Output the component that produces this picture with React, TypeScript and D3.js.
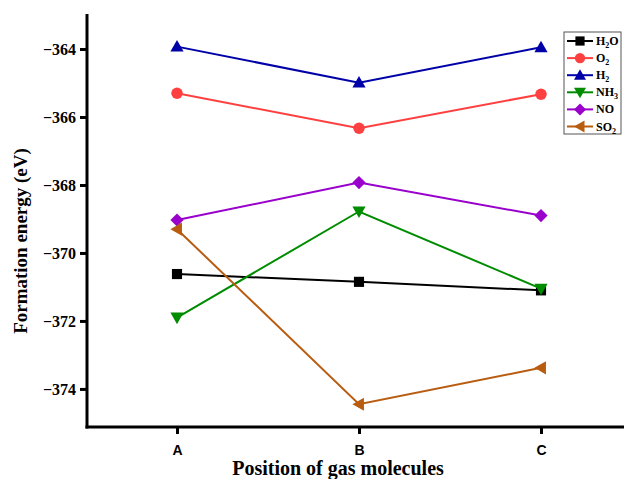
import { useEffect, useRef } from "react";
import * as d3 from "d3";

const positions = ["A", "B", "C"];
const seriesNames = ["H2O", "O2", "H2", "NH3", "NO", "SO2"];
const h2o = [-370.62, -370.85, -371.1];
const o2 = [-365.3, -366.33, -365.33];
const h2 = [-363.93, -364.99, -363.95];
const nh3 = [-371.9, -368.78, -371.05];
const no = [-369.03, -367.93, -368.9];
const so2 = [-369.3, -374.45, -373.38];
const yTicks = [-364, -366, -368, -370, -372, -374];

const colors = ["#000000", "#ff4040", "#0000a8", "#008c00", "#9900cc", "#b85c10"];
const symbols = [d3.symbolSquare, d3.symbolCircle, "up", "down", "diamond", "left"];

function markerPath(sym: any, size: number) {
  if (sym === "up") return `M0,${-size * 0.6}L${size * 0.6},${size * 0.45}L${-size * 0.6},${size * 0.45}Z`;
  if (sym === "down") return `M0,${size * 0.6}L${size * 0.6},${-size * 0.45}L${-size * 0.6},${-size * 0.45}Z`;
  if (sym === "left") return `M${-size * 0.6},0L${size * 0.45},${-size * 0.6}L${size * 0.45},${size * 0.6}Z`;
  if (sym === "diamond") {
    const r = size * 0.6;
    return `M0,${-r}L${r},0L0,${r}L${-r},0Z`;
  }
  return d3.symbol(sym, size * size * 0.85)() as string;
}

// chemical formula with subscript digits
function formula(sel: any, name: string) {
  const parts = name.match(/[A-Za-z]+|\d+/g) || [];
  let sub = false;
  parts.forEach((p) => {
    if (/\d/.test(p)) {
      sel.append("tspan").attr("font-size", 8).attr("dy", 3).text(p);
      sub = true;
    } else {
      sel.append("tspan").attr("dy", sub ? -3 : 0).text(p);
      sub = false;
    }
  });
}

export default function App() {
  const ref = useRef<SVGSVGElement>(null);

  useEffect(() => {
    const width = 624;
    const margin = { top: 14, left: 87, bottom: 427 };
    const svg = d3.select(ref.current);
    svg.selectAll("*").remove();

    const x = d3.scalePoint().domain(positions).range([177, 541]);
    const y = d3.scaleLinear().domain([-375.12, -362.97]).range([margin.bottom, margin.top]);

    const data = [h2o, o2, h2, nh3, no, so2];
    const serif = "Liberation Serif";

    // axes
    svg.append("g")
      .attr("transform", `translate(0,${margin.bottom})`)
      .call(d3.axisBottom(x).tickSize(7).tickSizeOuter(0))
      .call((g) => g.select(".domain").attr("d", `M${margin.left - 1.5},0H${width + 5}`).attr("stroke-width", 3))
      .call((g) => g.selectAll(".tick line").attr("stroke-width", 3))
      .call((g) => g.selectAll(".tick text")
        .attr("font-family", "Liberation Sans")
        .attr("font-weight", "bold").attr("font-size", 14).attr("y", 10).attr("dy", 18));

    svg.append("g")
      .attr("transform", `translate(${margin.left},0)`)
      .call(d3.axisLeft(y).tickValues(yTicks).tickSize(7).tickSizeOuter(0)
        .tickFormat((d) => "\u2212" + Math.abs(+d)))
      .call((g) => g.select(".domain").attr("d", `M0,${margin.top}V${margin.bottom + 1.5}`).attr("stroke-width", 3))
      .call((g) => g.selectAll(".tick line").attr("stroke-width", 3))
      .call((g) => g.selectAll(".tick text")
        .attr("font-family", serif).attr("font-weight", "bold").attr("font-size", 16).attr("x", -11));

    // axis titles
    svg.append("text")
      .attr("x", 338).attr("y", 475)
      .attr("text-anchor", "middle")
      .attr("font-family", serif).attr("font-weight", "bold").attr("font-size", 20)
      .text("Position of gas molecules");

    svg.append("text")
      .attr("transform", `translate(27,241) rotate(-90)`)
      .attr("text-anchor", "middle")
      .attr("font-family", serif).attr("font-weight", "bold").attr("font-size", 19)
      .text("Formation energy (eV)");

    // series lines and markers
    const line = d3.line<number>().x((_, i) => x(positions[i]) as number).y((d) => y(d));
    data.forEach((vals, k) => {
      svg.append("path")
        .attr("d", line(vals) as string)
        .attr("fill", "none")
        .attr("stroke", colors[k])
        .attr("stroke-width", 2);
      svg.append("g")
        .selectAll("path")
        .data(vals)
        .join("path")
        .attr("transform", (d, i) => `translate(${x(positions[i])},${y(d)})`)
        .attr("d", markerPath(symbols[k], 11))
        .attr("fill", colors[k]);
    });

    // legend
    const legend = svg.append("g");
    legend.append("rect")
      .attr("x", 564).attr("y", 32).attr("width", 57).attr("height", 102)
      .attr("fill", "white").attr("stroke", "#555").attr("stroke-width", 1);
    seriesNames.forEach((name, k) => {
      const ly = 41 + k * 17.1;
      legend.append("line")
        .attr("x1", 567).attr("x2", 593).attr("y1", ly).attr("y2", ly)
        .attr("stroke", colors[k]).attr("stroke-width", 2);
      legend.append("path")
        .attr("transform", `translate(580,${ly})`)
        .attr("d", markerPath(symbols[k], 10))
        .attr("fill", colors[k]);
      const t = legend.append("text")
        .attr("x", 596).attr("y", ly + 4)
        .attr("font-family", serif).attr("font-weight", "bold").attr("font-size", 12);
      formula(t, name);
    });
  }, []);

  return (
    <svg
      ref={ref}
      width={624}
      height={479}
      style={{ position: "fixed", left: 0, top: 0, display: "block", background: "white" }}
    />
  );
}
